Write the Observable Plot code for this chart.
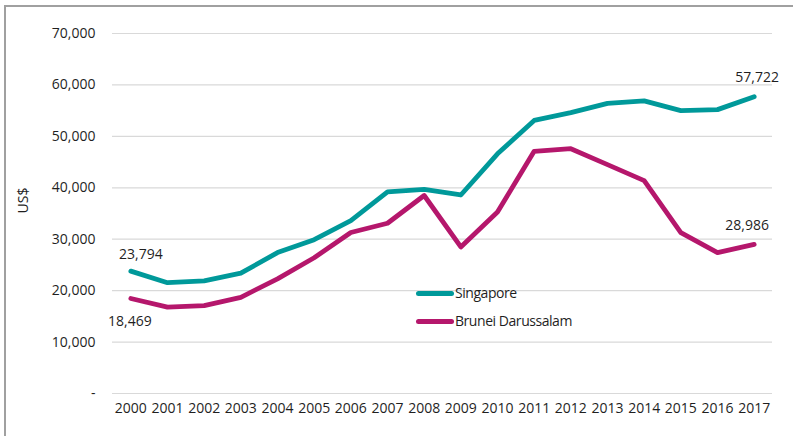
<!DOCTYPE html>
<html>
<head>
<meta charset="utf-8">
<script src="https://cdn.jsdelivr.net/npm/d3@7"></script>
<script src="https://cdn.jsdelivr.net/npm/@observablehq/plot@0.6"></script>
<style>
  html, body { margin: 0; padding: 0; background: #fff; }
  #wrap { position: relative; width: 793px; height: 436px; overflow: hidden; font-family: "Open Sans", sans-serif; }
  #frame { position: absolute; left: 4px; top: 5px; right: -10px; bottom: -10px; border-top: 2px solid #a0a0a0; border-left: 2px solid #a0a0a0; pointer-events: none; }
  #legend { position: absolute; left: 416px; top: 279px; font-size: 14px; color: #1f1f1f; line-height: 28px; letter-spacing: -0.45px; }
  #legend .item { display: flex; align-items: center; }
  #legend .sw { display: inline-block; width: 38px; height: 5px; border-radius: 3px; margin-right: 1px; }
  #plot svg { display: block; }
</style>
</head>
<body>
<div id="wrap">
  <div id="plot"></div>
  <div id="legend"></div>
  <div id="frame"></div>
</div>
<script>
const years = [2000, 2001, 2002, 2003, 2004, 2005, 2006, 2007, 2008, 2009, 2010, 2011, 2012, 2013, 2014, 2015, 2016, 2017];
const singapore = [23794, 21550, 21900, 23400, 27400, 29900, 33600, 39200, 39700, 38600, 46600, 53100, 54600, 56400, 56900, 55000, 55200, 57722];
const brunei = [18469, 16800, 17100, 18700, 22300, 26400, 31300, 33100, 38500, 28500, 35300, 47100, 47600, 44500, 41400, 31300, 27400, 28986];
const seriesNames = ["Singapore", "Brunei Darussalam"];
const seriesColors = ["#00999a", "#b5176c"];
const yTicks = [0, 10000, 20000, 30000, 40000, 50000, 60000, 70000];
const annotations = [
  {series: "Singapore", year: 2000, value: 23794, dx: 10, dy: -17},
  {series: "Brunei Darussalam", year: 2000, value: 18469, dx: -1, dy: 23},
  {series: "Singapore", year: 2017, value: 57722, dx: 3, dy: -19},
  {series: "Brunei Darussalam", year: 2017, value: 28986, dx: -7, dy: -19}
];

const data = [
  ...years.map((y, i) => ({series: seriesNames[0], year: String(y), value: singapore[i]})),
  ...years.map((y, i) => ({series: seriesNames[1], year: String(y), value: brunei[i]}))
];
const fmt = d3.format(",");

const textMarks = annotations.map(a => Plot.text([a], {
  x: d => String(d.year), y: "value", text: d => fmt(d.value),
  dx: a.dx, dy: a.dy, fill: "#1f1f1f", fontSize: 14
}));

const chart = Plot.plot({
  width: 793,
  height: 436,
  marginLeft: 112,
  marginRight: 21,
  marginTop: 33,
  marginBottom: 43,
  style: {fontFamily: "Open Sans, sans-serif", fontSize: "14px", color: "#1f1f1f", background: "transparent"},
  x: {type: "point", domain: years.map(String), padding: 0.5, round: false, label: null, tickSize: 0, tickPadding: 10},
  y: {domain: [0, 70000], ticks: yTicks, tickFormat: d => d === 0 ? "-" : fmt(d), label: null, tickSize: 0, tickPadding: 17},
  color: {domain: seriesNames, range: seriesColors},
  marks: [
    Plot.ruleY(yTicks, {stroke: "#d9d9d9", strokeWidth: 1.2}),
    Plot.line(data, {x: "year", y: "value", z: "series", stroke: "series", strokeWidth: 4.8, strokeLinecap: "round", strokeLinejoin: "round"}),
    ...textMarks,
    Plot.text(["US$"], {frameAnchor: "left", dx: -89, rotate: -90, fill: "#1f1f1f", fontSize: 14})
  ]
});
document.getElementById("plot").appendChild(chart);

const legend = document.getElementById("legend");
seriesNames.forEach((n, i) => {
  const item = document.createElement("div");
  item.className = "item";
  const sw = document.createElement("span");
  sw.className = "sw";
  sw.style.background = seriesColors[i];
  item.appendChild(sw);
  item.appendChild(document.createTextNode(n));
  legend.appendChild(item);
});
</script>
</body>
</html>
